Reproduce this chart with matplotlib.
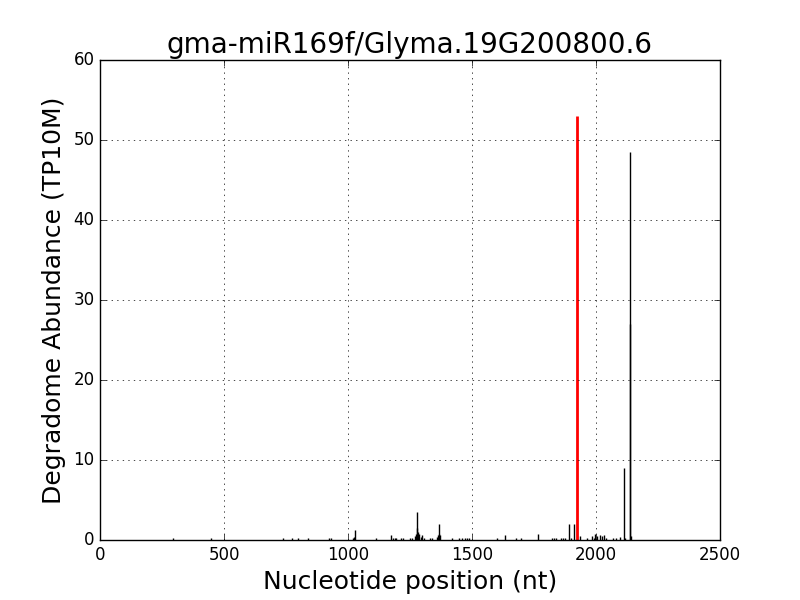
import matplotlib
matplotlib.use("Agg")
import matplotlib.pyplot as plt

plt.style.use("classic")

title = "gma-miR169f/Glyma.19G200800.6"
xlabel = "Nucleotide position (nt)"
ylabel = "Degradome Abundance (TP10M)"

positions = [293, 448, 738, 775, 797, 840, 923, 931, 1020, 1026, 1030, 1114, 1173, 1180, 1188, 1193,
             1212, 1220, 1252, 1260, 1270, 1274, 1278, 1280, 1284, 1288, 1293, 1298, 1305,
             1332, 1340, 1358, 1362, 1365, 1368, 1371, 1418, 1448, 1458, 1472, 1480, 1488,
             1599, 1633, 1677, 1696, 1767, 1822, 1830, 1840, 1857, 1866, 1875, 1892, 1900,
             1911, 1935, 1962, 1983, 1990, 1997, 2003, 2018, 2025, 2032, 2040, 2070, 2082,
             2095, 2113, 2118, 2137, 2138, 2141]
values = [0.2, 0.2, 0.2, 0.2, 0.3, 0.2, 0.3, 0.3, 0.2, 0.4, 1.2, 0.2, 0.6, 0.3, 0.3, 0.3,
          0.3, 0.2, 0.2, 0.3, 0.5, 0.8, 1.5, 3.5, 1.0, 0.8, 0.4, 0.6, 0.3,
          0.3, 0.3, 0.4, 0.6, 0.8, 2.0, 0.6, 0.2, 0.3, 0.3, 0.3, 0.3, 0.3,
          0.2, 0.6, 0.2, 0.2, 0.7, 0.3, 0.3, 0.3, 0.3, 0.3, 0.3, 2.0, 0.3,
          2.0, 0.5, 0.2, 0.5, 0.3, 0.7, 0.5, 0.6, 0.5, 0.6, 0.3, 0.3, 0.3,
          0.4, 9.0, 0.3, 48.5, 27.0, 0.5]
target_pos = [1922]
target_val = [53.0]

fig = plt.figure(figsize=(8, 6), dpi=100)
ax = fig.add_subplot(111)
ax.vlines(positions, 0, values, colors="black", linewidth=1)
ax.vlines(target_pos, 0, target_val, colors="red", linewidth=2)
ax.set_xlim(0, 2500)
ax.set_ylim(0, 60)
ax.grid(True, color="black", linestyle=":")
ax.set_title(title, fontsize=20)
ax.set_xlabel(xlabel, fontsize=18)
ax.set_ylabel(ylabel, fontsize=18)
ax.tick_params(labelsize=12)
fig.savefig("out.png", dpi=100)
